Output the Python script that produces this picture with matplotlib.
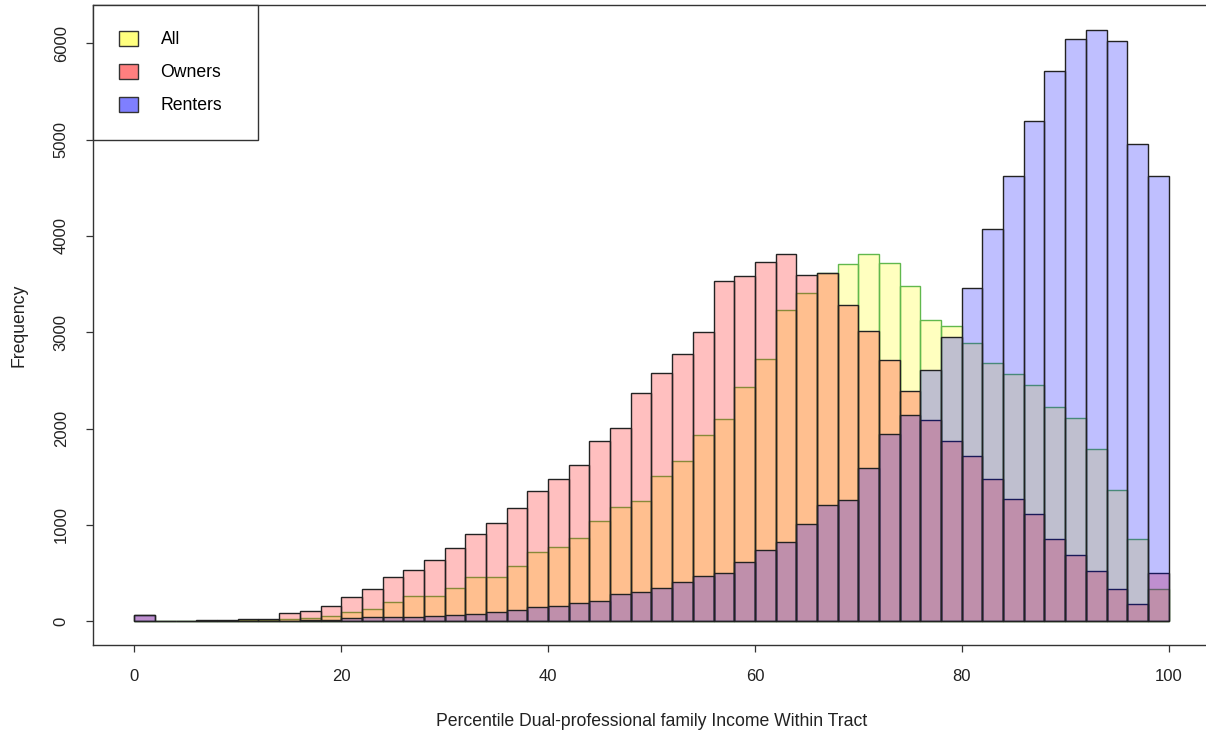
import numpy as np
import matplotlib.pyplot as plt
from matplotlib.patches import Patch

# Bins de 2 pontos percentuais, de 0 a 100
bin_edges = np.arange(0, 102, 2)

# Contagens (uma por bin)
all_counts = [0, 0, 3, 5, 5, 10, 15, 25, 35, 55,
              93, 132, 200, 260, 263, 346, 460, 460, 574, 720,
              772, 865, 1042, 1191, 1246, 1506, 1663, 1931, 2104, 2427,
              2727, 3236, 3409, 3610, 3707, 3811, 3721, 3485, 3122, 3069,
              2884, 2677, 2568, 2454, 2219, 2106, 1786, 1365, 855, 337]
owners_counts = [70, 0, 8, 10, 10, 20, 25, 83, 104, 163,
                 256, 336, 464, 530, 633, 761, 910, 1025, 1173, 1350,
                 1478, 1627, 1872, 2007, 2371, 2575, 2771, 3004, 3534, 3579,
                 3731, 3811, 3596, 3617, 3281, 3018, 2717, 2388, 2089, 1867,
                 1713, 1477, 1272, 1118, 855, 684, 522, 337, 175, 502]
renters_counts = [70, 0, 2, 3, 3, 5, 8, 5, 10, 18,
                  30, 40, 45, 48, 55, 69, 76, 100, 121, 149,
                  163, 194, 215, 288, 308, 346, 403, 474, 498, 613,
                  737, 827, 1007, 1212, 1263, 1592, 1942, 2145, 2608, 2948,
                  3455, 4071, 4617, 5197, 5711, 6047, 6132, 6018, 4953, 4617]

series_labels = ['All', 'Owners', 'Renters']
x_ticks = [0, 20, 40, 60, 80, 100]
y_ticks = [0, 1000, 2000, 3000, 4000, 5000, 6000]

plt.rcParams['font.family'] = ['Liberation Sans', 'DejaVu Sans']

fig = plt.figure(figsize=(12.06, 7.37), dpi=100)
ax = fig.add_axes([0.0771, 0.1248, 0.9262, 0.8684])

larg = np.diff(bin_edges)
# ordem de desenho igual ao original: All, Owners, Renters
ax.bar(bin_edges[:-1], all_counts, width=larg, align='edge',
       color=(1, 1, 0, 0.25), edgecolor=(0.38, 0.72, 0.3), linewidth=1.0)
ax.bar(bin_edges[:-1], owners_counts, width=larg, align='edge',
       color=(1, 0, 0, 0.25), edgecolor='#222222', linewidth=1.0)
ax.bar(bin_edges[:-1], renters_counts, width=larg, align='edge',
       color=(0, 0, 1, 0.25), edgecolor='#222222', linewidth=1.0)

ax.set_xlim(-4, 104)
ax.set_ylim(-246, 6396)
ax.set_xticks(x_ticks)
ax.set_yticks(y_ticks)
ax.tick_params(axis='both', direction='out', length=5, width=0.9,
               labelsize=12, pad=12.5, color='#333333', labelcolor='#222222')
for lab in ax.get_yticklabels():
    lab.set_rotation(90)
    lab.set_va('center')
for s in ax.spines.values():
    s.set_linewidth(1.0)
    s.set_color('#333333')

ax.set_xlabel('Percentile Dual-professional family Income Within Tract',
              fontsize=12.7, labelpad=21, color='#222222')
ax.set_ylabel('Frequency', fontsize=12.7, labelpad=18.5, color='#222222')

handles = [Patch(facecolor=(1, 1, 0, 0.5), edgecolor='#333333'),
           Patch(facecolor=(1, 0, 0, 0.5), edgecolor='#333333'),
           Patch(facecolor=(0, 0, 1, 0.5), edgecolor='#333333')]
leg = ax.legend(handles, series_labels, loc='upper left',
                bbox_to_anchor=(0, 1, 0.1477, 0), mode='expand',
                borderaxespad=0, fancybox=False, fontsize=12.7,
                borderpad=1.45, labelspacing=0.875, handlelength=1.08,
                handleheight=0.95, handletextpad=1.3, framealpha=1)
leg.get_frame().set_edgecolor('#333333')
leg.get_frame().set_linewidth(1.0)

fig.savefig('out.png', dpi=100)
